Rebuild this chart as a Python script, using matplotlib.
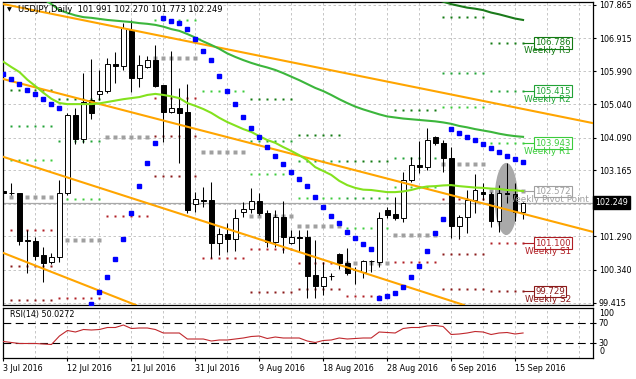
import numpy as np
import matplotlib
matplotlib.use('Agg')
import matplotlib.pyplot as plt
from matplotlib.patches import Rectangle, Ellipse
import matplotlib.transforms as mtransforms

plt.rcParams['font.family'] = ['DejaVu Sans']
nan = float('nan')

# ---------------- data ----------------
symbol_title = "USDJPY,Daily  101.991 102.270 101.773 102.249"
rsi_title = "RSI(14) 50.0272"
date_labels = ["3 Jul 2016", "12 Jul 2016", "21 Jul 2016", "31 Jul 2016", "9 Aug 2016",
               "18 Aug 2016", "28 Aug 2016", "6 Sep 2016", "15 Sep 2016"]
price_ticks = [107.865, 106.915, 105.990, 105.040, 104.090, 103.165, 102.215, 101.290, 100.340, 99.415]
last_price = 102.249

opens = [102.58, 102.53, 102.52, 101.16, 101.16, 100.76, 100.57, 100.71, 102.53, 104.74,
         104.06, 105.17, 105.34, 105.42, 106.19, 106.13, 107.16, 105.79, 106.10, 106.30,
         105.59, 104.83, 104.94, 104.83, 102.21, 102.33, 102.33, 101.10, 101.36, 101.22,
         101.99, 102.07, 102.30, 101.96, 101.13, 101.84, 101.11, 101.28, 101.28, 100.20,
         99.88, 100.16, 100.79, 100.54, 100.34, 100.28, 100.59, 100.57, 102.04, 101.93,
         101.82, 102.89, 103.32, 103.26, 104.12, 103.95, 103.52, 101.59, 101.84, 102.33,
         102.55, 102.50, 101.73, 102.53, 102.50, 101.991]
highs = [102.61, 102.81, 102.53, 101.47, 101.28, 100.99, 100.82, 102.89, 104.80, 104.94,
         105.93, 106.33, 106.02, 106.36, 106.53, 107.35, 107.44, 106.45, 106.42, 106.73,
         105.60, 106.56, 105.51, 105.62, 102.55, 102.70, 102.84, 101.53, 101.67, 102.07,
         102.27, 102.67, 102.53, 102.04, 102.04, 102.30, 101.47, 101.47, 101.47, 101.19,
         100.56, 100.25, 100.82, 100.96, 100.42, 100.62, 100.62, 101.99, 102.13, 102.41,
         103.12, 103.55, 104.00, 104.37, 104.14, 104.03, 103.83, 101.90, 102.61, 103.07,
         102.81, 102.55, 102.75, 103.38, 102.81, 102.270]
lows = [102.50, 102.47, 101.05, 100.25, 100.62, 100.00, 100.51, 100.57, 102.47, 103.92,
        103.95, 104.63, 105.17, 105.37, 105.65, 106.02, 105.39, 105.54, 106.08, 105.54,
        103.97, 104.80, 103.38, 101.96, 101.99, 102.13, 100.68, 100.76, 100.85, 100.88,
        101.84, 101.96, 101.90, 100.99, 100.99, 100.82, 101.08, 100.85, 99.54, 99.54,
        99.63, 100.05, 100.37, 100.20, 99.94, 100.11, 100.28, 100.42, 101.82, 101.76,
        101.70, 102.84, 103.09, 103.18, 103.89, 103.12, 101.25, 101.22, 101.39, 101.96,
        102.33, 101.56, 101.42, 102.24, 101.73, 101.773]
closes = [102.53, 102.52, 101.16, 101.19, 100.74, 100.54, 100.71, 102.53, 104.74, 104.06,
          105.11, 104.80, 105.42, 106.19, 106.13, 107.21, 105.79, 106.16, 106.30, 105.56,
          104.83, 104.94, 104.80, 102.04, 102.36, 102.31, 101.10, 101.36, 101.22, 101.82,
          102.07, 102.30, 101.96, 101.13, 101.84, 101.28, 101.28, 101.26, 100.17, 99.88,
          100.14, 100.17, 100.54, 100.25, 100.33, 100.59, 100.60, 101.82, 101.90, 101.82,
          102.89, 103.32, 103.26, 104.03, 103.95, 103.52, 101.59, 101.84, 102.33, 102.61,
          102.50, 101.73, 102.53, 102.50, 101.99, 102.249]

ma_fast = [106.25, 106.10, 105.96, 105.74, 105.56, 105.37, 105.20, 105.08, 105.05, 105.05,
           105.05, 105.05, 105.07, 105.11, 105.15, 105.19, 105.22, 105.25, 105.31, 105.34,
           105.31, 105.27, 105.22, 105.08, 105.00, 104.91, 104.80, 104.66, 104.54, 104.44,
           104.34, 104.26, 104.14, 104.03, 103.95, 103.83, 103.72, 103.60, 103.46, 103.26,
           103.15, 103.04, 102.87, 102.75, 102.67, 102.62, 102.61, 102.58, 102.55, 102.55,
           102.57, 102.61, 102.67, 102.71, 102.72, 102.74, 102.75, 102.72, 102.70, 102.68,
           102.67, 102.65, 102.64, 102.61, 102.60, 102.58]
ma_mid = [nan, nan, nan, nan, 108.18, 108.03, 107.89, 107.72, 107.64, 107.57,
          107.52, 107.50, 107.47, 107.44, 107.42, 107.40, 107.38, 107.35, 107.33, 107.30,
          107.25, 107.18, 107.13, 107.04, 106.94, 106.83, 106.73, 106.62, 106.49, 106.39,
          106.30, 106.22, 106.15, 106.09, 106.02, 105.93, 105.83, 105.73, 105.62, 105.51,
          105.42, 105.31, 105.19, 105.08, 104.98, 104.90, 104.83, 104.76, 104.70, 104.67,
          104.64, 104.62, 104.60, 104.58, 104.56, 104.53, 104.49, 104.43, 104.39, 104.34,
          104.30, 104.26, 104.21, 104.17, 104.14, 104.12]
ma_slow = [nan] * 54 + [108.04, 107.96, 107.89, 107.84, 107.79, 107.76,
                        107.72, 107.65, 107.60, 107.54, 107.48, 107.44]
sar = [105.90, 105.76, 105.62, 105.45, 105.34, 105.20, 105.05, 104.94, nan, nan,
       nan, 99.37, 99.71, 100.14, 100.65, 101.22, 101.96, 102.72, 103.38, 103.95,
       107.50, 107.41, 107.35, 107.18, 106.90, 106.56, 106.30, 105.85, 105.42, 105.05,
       104.68, 104.37, 104.12, 103.83, 103.58, 103.35, 103.12, 102.92, 102.72, 102.41,
       102.13, 101.87, 101.67, 101.42, 101.25, 101.08, 100.93, 99.54, 99.60, 99.68,
       99.85, 100.14, 100.45, 100.88, 101.39, 101.79, 104.34, 104.23, 104.12, 104.03,
       103.92, 103.80, 103.69, 103.58, 103.49, 103.41]
rsi = [33, 31, 29, 29, 29, 28, 27, 44, 55, 52,
       57, 56, 57, 61, 61, 66, 59, 60, 60, 57,
       50, 50, 50, 38, 38, 38, 34, 36, 36, 38,
       40, 43, 44, 39, 42, 40, 40, 40, 34, 31,
       35, 36, 40, 38, 39, 40, 40, 52, 51, 50,
       59, 61, 61, 64, 65, 63, 47, 48, 50, 53,
       52, 47, 50, 51, 48, 50.0272]

# weekly pivot levels (one entry per week, first bar of each week)
week_start = [1, 7, 13, 19, 25, 31, 37, 43, 49, 55, 61]
piv_R3 = [105.45, 105.20, nan, nan, nan, 105.20, 104.17, 103.43, 104.88, 107.52, 106.786]
piv_R2 = [104.43, 104.00, nan, nan, nan, 104.00, 103.43, 102.38, 103.52, 105.93, 105.415]
piv_R1 = [103.46, 102.36, nan, 107.44, 105.42, 103.07, 102.38, 101.53, 102.70, 104.97, 103.943]
piv_P = [102.41, 101.19, 104.12, 106.36, 103.69, 101.87, 101.59, 100.54, 101.33, 103.35, 102.572]
piv_S1 = [101.47, 99.54, 101.87, 105.22, 100.68, 100.94, 100.54, 99.60, 100.57, 102.36, 101.100]
piv_S2 = [100.45, nan, nan, 104.14, nan, 99.71, 99.80, nan, nan, 100.79, 99.729]
piv_S3 = [99.49, nan, nan, 103.01, nan, nan, nan, nan, nan, 99.80, nan]
piv_names = ["Weekly R3", "Weekly R2", "Weekly R1", "Weekly Pivot Point", "Weekly S1", "Weekly S2", "Weekly S3"]

# trend lines: two anchor points (bar, price)
trend_lines = [((0, 107.89), (73.75, 104.51)),
               ((0, 105.76), (73.75, 101.42)),
               ((0, 103.55), (57.25, 99.37)),
               ((0, 100.82), (16.25, 99.37))]
# highlight ellipse (center bar, center price, width bars, height price)
ellipse_spec = (62.9, 102.355, 2.9, 2.05)

# ---------------- styles ----------------
FS = 5.8
piv_colors = ['#137a13', '#21a336', '#3ccc3c', '#a0a0a0', '#b01e24', '#8b1a1a', '#8b1a1a']
piv_ms = [1.6, 1.6, 1.6, 2.6, 1.6, 1.6, 1.6]

W, H = 636, 379
fig = plt.figure(figsize=(W / 100, H / 100), dpi=100)
fig.patch.set_facecolor('white')


def frac(x0, y0, x1, y1):
    return [x0 / W, 1 - y1 / H, (x1 - x0) / W, (y1 - y0) / H]


ax = fig.add_axes(frac(3, 2, 593, 305))
axr = fig.add_axes(frac(3, 308, 593, 358))
n = len(closes)
idx = np.arange(n)
XL = (-0.06, 73.75)
for a in (ax, axr):
    a.set_xlim(*XL)
    a.set_facecolor('white')
    for s in a.spines.values():
        s.set_color('black')
        s.set_linewidth(0.9)
ax.set_ylim(99.344, 107.950)
axr.set_ylim(0, 100)

grid_kw = dict(color='#bdbdbd', lw=0.6, ls=(0, (3, 3)), zorder=0)
for gx in np.arange(4, 74, 4):
    ax.axvline(gx, **grid_kw)
    axr.axvline(gx, **grid_kw)
for p in price_ticks:
    ax.axhline(p, **grid_kw)

# price axis
ax.yaxis.tick_right()
ax.set_yticks(price_ticks)
ax.set_yticklabels(['' if abs(p - 102.215) < 1e-6 else f'{p:.3f}' for p in price_ticks])
ax.tick_params(axis='y', length=2.2, width=0.8, labelsize=FS, pad=2, colors='black')
ax.tick_params(axis='x', length=0, labelbottom=False)

# ellipse highlight
ex, ey, ew, eh = ellipse_spec
ax.add_patch(Ellipse((ex, ey), ew, eh, facecolor='#a9a9a9', edgecolor='none', zorder=0.6))

# bid line
ax.axhline(last_price, color='#a8a8a8', lw=0.9, zorder=0.8)

# pivot dots
levels_all = [piv_R3, piv_R2, piv_R1, piv_P, piv_S1, piv_S2, piv_S3]
for k, st in enumerate(week_start):
    bars = np.arange(st, min(st + 6, n))
    for lv, col, ms in zip(levels_all, piv_colors, piv_ms):
        v = lv[k]
        if not np.isnan(v):
            ax.plot(bars, [v] * len(bars), ls='none', marker='s', ms=ms, color=col,
                    mec='none', zorder=1)

# last-week labels
for lv, col, name in zip(levels_all, piv_colors, piv_names):
    v = lv[-1]
    if np.isnan(v):
        continue
    ax.plot([n - 1, 66.5], [v, v], color=col, lw=0.8, zorder=1)
    ax.text(66.55, v, f'{v:.3f}', ha='left', va='center', fontsize=FS + 0.4, color=col,
            bbox=dict(boxstyle='square,pad=0.15', fc='white', ec=col, lw=0.8), zorder=7)
    ax.annotate(name, xy=(68.1, v), xytext=(0, -8), textcoords='offset pixels',
                ha='center', va='center', fontsize=6.4, color=col, zorder=7,
                annotation_clip=False, clip_on=True)

# candles
for i in range(n):
    o, h, l, c = opens[i], highs[i], lows[i], closes[i]
    ax.plot([i, i], [l, h], color='black', lw=0.75, zorder=2, solid_capstyle='butt')
    bottom = min(o, c)
    height = max(abs(c - o), 0.012)
    fc = 'white' if c >= o else 'black'
    ax.add_patch(Rectangle((i - 0.3, bottom), 0.6, height, facecolor=fc,
                           edgecolor='black', lw=0.7, zorder=2.1))

# trend lines
for (p1, p2) in trend_lines:
    ax.axline(p1, p2, color='#ffa500', lw=1.5, zorder=3)

# moving averages
ax.plot(idx, ma_slow, color='#1b7a1b', lw=1.5, zorder=3.2)
ax.plot(idx, ma_mid, color='#3cb63c', lw=1.5, zorder=3.2)
ax.plot(idx, ma_fast, color='#84e21e', lw=1.5, zorder=3.2)

# SAR
ax.plot(idx, sar, ls='none', marker='s', ms=2.7, color='#0000ff', mec='#0000ff', zorder=4)

# current price box
ax.text(1.003, last_price, f'{last_price:.3f}', transform=ax.get_yaxis_transform(),
        ha='left', va='center', fontsize=FS, color='white', clip_on=False, zorder=10,
        bbox=dict(boxstyle='square,pad=0.25', fc='black', ec='black'))

# header
fig.text(7 / W, 1 - 10 / H, '\u25BC', fontsize=4.5, va='center', ha='left', color='black')
fig.text(18 / W, 1 - 10 / H, symbol_title, fontsize=6.0, va='center', ha='left', color='black')

# ---------------- RSI panel ----------------
axr.plot(idx, rsi, color='#c0282d', lw=0.8, zorder=3)
for lvl in (70, 30):
    axr.axhline(lvl, color='black', lw=0.8, ls=(0, (7, 4)), zorder=2)
axr.yaxis.tick_right()
axr.set_yticks([70, 30])
axr.set_yticklabels(['70', '30'])
axr.tick_params(axis='y', length=2.2, width=0.8, labelsize=FS, pad=2)
ytr = axr.get_yaxis_transform()
axr.text(1.0, 88, '100', transform=ytr, fontsize=FS, ha='left', va='center', clip_on=False)
axr.text(1.0, 12, '0', transform=ytr, fontsize=FS, ha='left', va='center', clip_on=False)
for t in axr.texts:
    t.set_transform(ytr + mtransforms.ScaledTranslation(4.4 / 72, 0, fig.dpi_scale_trans))
axr.text(7 / 590, 0.86, rsi_title, transform=axr.transAxes, fontsize=FS, ha='left', va='center')

axr.set_xticks(np.arange(0, 8 * len(date_labels), 8))
axr.set_xticklabels(date_labels)
axr.tick_params(axis='x', length=2.2, width=0.8, labelsize=FS, pad=2)
for lab in axr.get_xticklabels():
    lab.set_horizontalalignment('left')

fig.savefig('out.png', dpi=100)
